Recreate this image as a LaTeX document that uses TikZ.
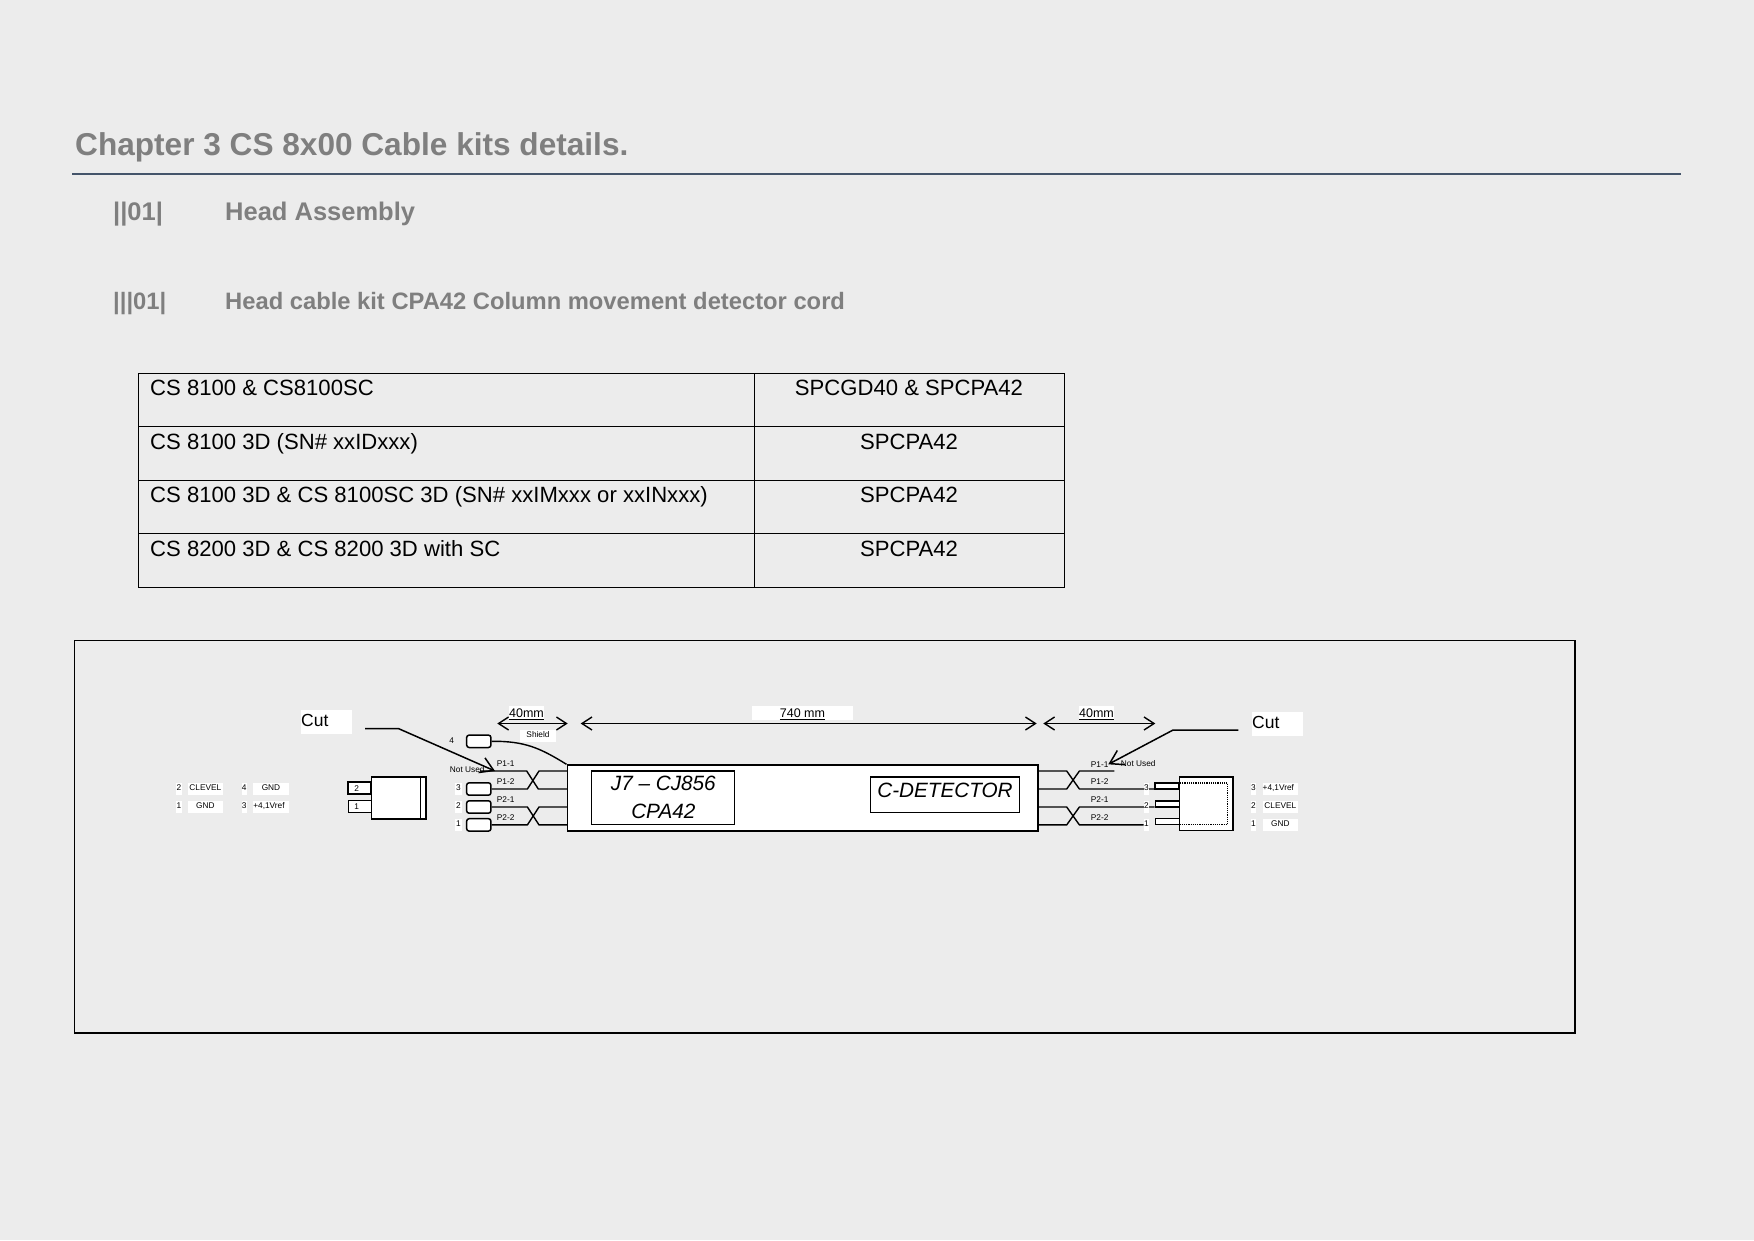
\documentclass[tikz,border=0pt]{standalone}
\usepackage{fontspec}
\setmainfont{Liberation Sans}
\usepackage{xcolor}
\usepackage{tikz}
\usetikzlibrary{arrows.meta, positioning}
\definecolor{pagegrey}{HTML}{ECECEC}
\definecolor{headgrey}{HTML}{7F7F7F}
\definecolor{rulecol}{HTML}{44546A}
\newcommand*\sz[1]{\fontsize{#1}{#1}\selectfont}
\tikzstyle{head} = [anchor=base west, inner sep=0pt, text=headgrey, font=\bfseries\sz{23.75}]
\tikzstyle{cell-text} = [anchor=base west, inner sep=0pt, font=\sz{22.1}]
\tikzstyle{cell-mid} = [anchor=base, inner sep=0pt, font=\sz{22.1}]
\tikzstyle{dim-arrow} = [line width=1.4pt, {Straight Barb[length=10pt,width=13pt]}-{Straight Barb[length=10pt,width=13pt]}]
\tikzstyle{cut-arrow} = [line width=1.5pt, -{Straight Barb[length=13pt,width=16pt]}]
\tikzstyle{wire} = [line width=1.4pt, line join=round]
\tikzstyle{plug} = [rectangle, draw=black, fill=white, line width=1.5pt, rounded corners=2.5pt, minimum width=24.3pt, minimum height=12.4pt, inner sep=0pt]
\tikzstyle{tag} = [anchor=base, fill=white, inner sep=0pt, text height=7.3pt, text depth=5pt, font=\sz{8.3}]
\tikzstyle{wire-label} = [anchor=base west, inner sep=0pt, font=\sz{8.3}]
\tikzstyle{dim-label} = [anchor=base, fill=white, inner sep=0pt, text height=11.5pt, text depth=3pt, font=\sz{12.5}]
\tikzstyle{cut-label} = [anchor=base west, fill=white, inner sep=0pt, text width=51pt, align=left, text height=16pt, text depth=8pt, font=\sz{17.5}]
\tikzstyle{tab} = [rectangle, draw=black, fill=white, inner sep=0pt]
\tikzstyle{title-box} = [rectangle, draw=black, fill=white, line width=1.6pt, inner sep=0pt, font=\itshape\sz{20.7}]

\begin{document}
\begin{tikzpicture}[x=1pt, y=-1pt]

  \useasboundingbox (0,0) rectangle (1754,1240);
  \fill[pagegrey] (0,0) rectangle (1754,1240);

  % Headings
  \node (chapter) [head, font=\bfseries\sz{31.6}] at (75,155) {Chapter 3 CS 8x00 Cable kits details.};
  \coordinate (rulea) at (72,173.7);
  \coordinate (ruleb) at (1681,173.7);
  \draw[rulecol, line width=1.8pt] (rulea) -- (ruleb);
  \node (numa) [head, font=\bfseries\sz{25.5}] at (113,220.5) {||01|};
  \node (heada) [head, font=\bfseries\sz{25.5}] at (225,220.5) {Head Assembly};
  \node (numb) [head] at (113,309) {|||01|};
  \node (headb) [head] at (225,309) {Head cable kit CPA42 Column movement detector cord};

  % Table
  \draw[line width=1pt] (138.4,373.4) rectangle (1064.2,587.2);
  \draw[line width=1pt] (754.4,373.4) -- (754.4,587.2);
  \draw[line width=1pt] (138.4,426.6) -- (1064.2,426.6);
  \draw[line width=1pt] (138.4,480.4) -- (1064.2,480.4);
  \draw[line width=1pt] (138.4,533.5) -- (1064.2,533.5);
  \node (rowa) [cell-text] at (150,395) {CS 8100 \& CS8100SC};
  \node (rowb) [cell-text] at (150,449) {CS 8100 3D (SN\# xxIDxxx)};
  \node (rowc) [cell-text] at (150,502) {CS 8100 3D \& CS 8100SC 3D (SN\# xxIMxxx or xxINxxx)};
  \node (rowd) [cell-text] at (150,556) {CS 8200 3D \& CS 8200 3D with SC};
  \node (kita) [cell-mid] at (909,395) {SPCGD40 \& SPCPA42};
  \node (kitb) [cell-mid] at (909,449) {SPCPA42};
  \node (kitc) [cell-mid] at (909,502) {SPCPA42};
  \node (kitd) [cell-mid] at (909,556) {SPCPA42};

  % Frame
  \draw[line width=1.6pt] (74.4,640.6) rectangle (1575,1032.7);

  % Left connector
  \node (tabb) [tab, line width=1.7pt, minimum width=23.6pt, minimum height=12pt] at (359.5,788.3) {};
  \node (taba) [tab, line width=1pt, minimum width=23pt, minimum height=12pt] at (359.8,806.3) {};
  \node (conl) [tab, line width=1.6pt, minimum width=54.4pt, minimum height=42pt] at (398.5,797.9) {};
  \draw[line width=1pt] (conl.north east) ++(-6.4,0) -- ++(0,42);
  \node (labtb) [tag, fill=none] at (356.7,791) {2};
  \node (labta) [tag, fill=none] at (356.7,809) {1};

  % Left pin table
  \node (lna) [tag, minimum width=6pt] at (179,790) {2};
  \node (lnb) [tag, minimum width=34.7pt] at (205.4,790) {CLEVEL};
  \node (lnc) [tag, minimum width=5.5pt] at (244.3,790) {4};
  \node (lnd) [tag, minimum width=36pt] at (271,790) {GND};
  \node (lne) [tag, minimum width=6pt] at (179,808) {1};
  \node (lnf) [tag, minimum width=34.7pt] at (205.4,808) {GND};
  \node (lng) [tag, minimum width=5.5pt] at (244.3,808) {3};
  \node (lnh) [tag, minimum width=36pt] at (271,808) {+4,1Vref\kern4pt};

  % Cable body
  \node (body) [tab, line width=1.6pt, minimum width=470.4pt, minimum height=65.6pt] at (802.5,797.9) {};
  \node (bodya) [title-box, minimum width=143pt, minimum height=53.6pt, align=center] at (662.8,797.6) {};
  \node (bodyb) [title-box, minimum width=149pt, minimum height=35.6pt] at (944.8,794.6) {};
  \node (labbodya) [anchor=base, inner sep=0pt, font=\itshape\sz{20.7}] at (663.3,790.7) {J7 – CJ856};
  \node (labbodyb) [anchor=base, inner sep=0pt, font=\itshape\sz{20.7}] at (663.3,818) {CPA42};
  \node (labbodyc) [anchor=base, inner sep=0pt, font=\itshape\sz{20.7}] at (945,797) {C-DETECTOR};

  % Plugs
  \node (plugd) [plug] at (478.8,741.3) {};
  \node (plugc) [plug] at (478.8,789) {};
  \node (plugb) [plug] at (478.8,807) {};
  \node (pluga) [plug] at (478.8,824.9) {};
  \node (nd) [anchor=base, inner sep=0pt, font=\sz{8.3}] at (451.7,743) {4};
  \node (nc) [tag, minimum width=7pt] at (458.5,790) {3};
  \node (nb) [tag, minimum width=7pt] at (458.5,808) {2};
  \node (na) [tag, minimum width=7pt] at (458.5,826) {1};

  % Left wires
  \coordinate (nul) at (480,771);
  \coordinate (mla) at (567.3,771);
  \coordinate (mlb) at (567.3,789);
  \coordinate (mlc) at (567.3,807);
  \coordinate (mld) at (567.3,824.9);
  \draw[wire] (nul) -- ++(46.7,0) -- ++(11.6,18) -- (mlb);
  \draw[wire] (plugc.east) -- ++(35.7,0) -- ++(11.6,-18) -- (mla);
  \draw[wire] (plugb.east) -- ++(35.7,0) -- ++(11.6,17.9) -- (mld);
  \draw[wire] (pluga.east) -- ++(35.7,0) -- ++(11.6,-17.9) -- (mlc);
  \draw[wire] (plugd.east) .. controls (525,741) and (540,748) .. (body.north west);
  \node (pla) [wire-label] at (496.7,766.3) {P1-1};
  \node (plb) [wire-label] at (496.7,784) {P1-2};
  \node (plc) [wire-label] at (496.7,802) {P2-1};
  \node (pld) [wire-label] at (496.7,820) {P2-2};
  \node (nula) [wire-label] at (449.7,772) {Not Used};

  % Right connector
  \node (tabr) [tab, line width=1.9pt, minimum width=24pt, minimum height=6pt] at (1167.3,786) {};
  \node (tabq) [tab, line width=1.4pt, minimum width=24pt, minimum height=6pt] at (1167.3,804) {};
  \node (tabp) [tab, line width=1pt, minimum width=24pt, minimum height=6pt] at (1167.3,821.9) {};
  \node (conr) [tab, line width=1.6pt, minimum width=53.4pt, minimum height=53.6pt] at (1206,803.8) {};
  \draw[densely dotted, line width=1.2pt] (1179.3,783) rectangle (1227.7,824.6);

  % Right wires
  \coordinate (nur) at (1114.3,771);
  \coordinate (mra) at (1037.7,771);
  \coordinate (mrb) at (1037.7,789);
  \coordinate (mrc) at (1037.7,807);
  \coordinate (mrd) at (1037.7,824.9);
  \node (nra) [tag, minimum width=5.3pt] at (1146.5,826) {1};
  \draw[wire] (mra) -- ++(29,0) -- ++(12.7,18) -- (tabr.west |- mrb);
  \draw[wire] (mrb) -- ++(29,0) -- ++(12.7,-18) -- (nur);
  \draw[wire] (mrc) -- ++(29,0) -- ++(12.7,17.9) -- (nra.west |- mrd);
  \draw[wire] (mrd) -- ++(29,0) -- ++(12.7,-17.9) -- (tabq.west |- mrc);
  \node (nrc) [tag, minimum width=5.3pt] at (1146.5,790) {3};
  \node (nrb) [tag, minimum width=5.3pt] at (1146.5,808) {2};
  \node (pra) [wire-label] at (1090.7,767) {P1-1};
  \node (prb) [wire-label] at (1090.7,784) {P1-2};
  \node (prc) [wire-label] at (1090.7,802) {P2-1};
  \node (prd) [wire-label] at (1090.7,820) {P2-2};
  \node (nurb) [wire-label] at (1120.7,766.5) {Not Used};

  % Right pin table
  \node (rna) [tag, minimum width=5pt] at (1253.5,790) {3};
  \node (rnb) [tag, minimum width=34.7pt] at (1280.3,790) {+4,1Vref\kern4pt};
  \node (rnc) [tag, minimum width=5pt] at (1253.5,808) {2};
  \node (rnd) [tag, minimum width=34.7pt] at (1280.3,808) {CLEVEL};
  \node (rne) [tag, minimum width=5pt] at (1253.5,826) {1};
  \node (rnf) [tag, minimum width=34.7pt] at (1280.3,826) {GND};

  % Lengths
  \node (lenb) [dim-label, minimum width=101pt] at (802.5,717.3) {\underline{740 mm}};
  \node (lena) [dim-label] at (526.5,717.3) {\underline{40mm}};
  \node (lenc) [dim-label] at (1096.5,717.3) {\underline{40mm}};
  \node (shield) [tag, minimum width=36pt] at (538,737) {Shield};
  \coordinate (dima) at (497.3,723.5);
  \coordinate (dimb) at (567.7,723.5);
  \coordinate (dimc) at (580.7,723.5);
  \coordinate (dimd) at (1036.7,723.5);
  \coordinate (dime) at (1043.3,723.5);
  \coordinate (dimf) at (1155.3,723.5);
  \draw[dim-arrow] (dima) -- (dimb);
  \draw[dim-arrow] (dimc) -- (dimd);
  \draw[dim-arrow] (dime) -- (dimf);

  % Cut labels
  \node (cutl) [cut-label] at (301,726) {Cut};
  \node (cutr) [cut-label] at (1252,728.3) {Cut};
  \coordinate (cutla) at (365,728.5);
  \coordinate (cutlb) at (495,771);
  \coordinate (cutra) at (1238.3,730.2);
  \coordinate (cutrb) at (1108.3,764.3);
  \draw[cut-arrow] (cutla) -- (398.3,728.5) -- (cutlb);
  \draw[cut-arrow] (cutra) -- (1172.7,730.2) -- (cutrb);

\end{tikzpicture}
\end{document}
